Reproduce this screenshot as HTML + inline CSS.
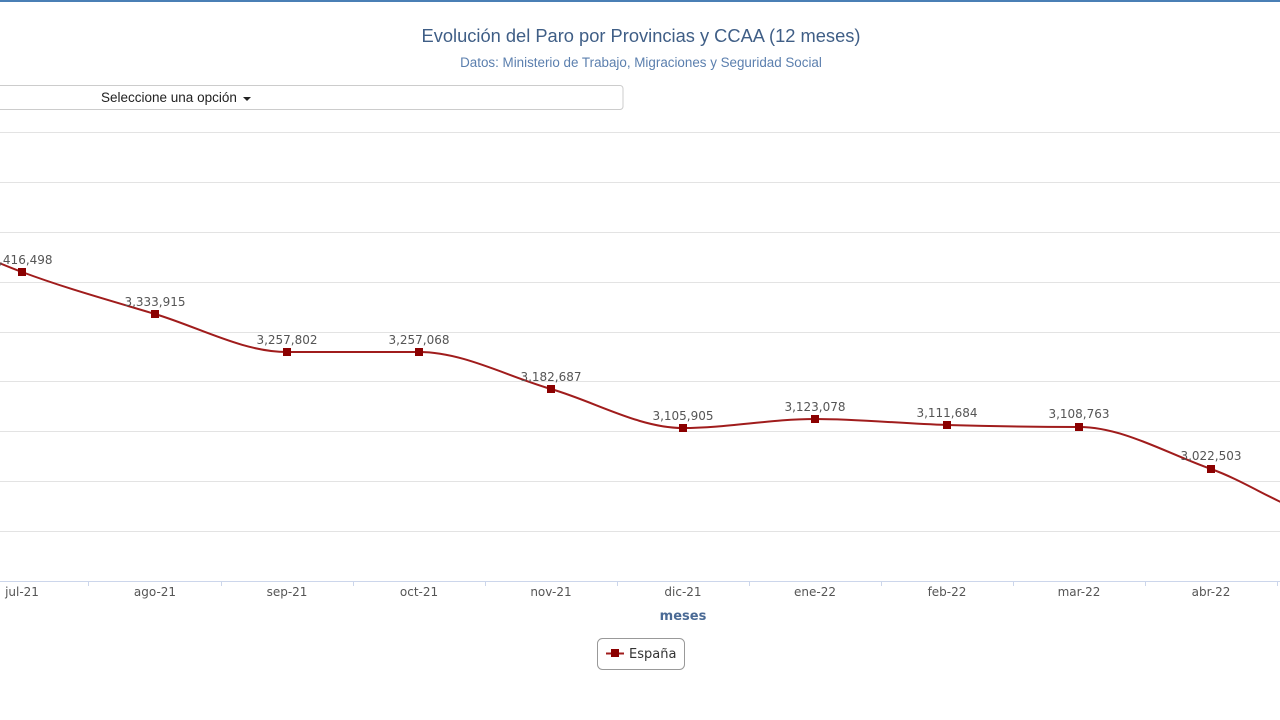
<!DOCTYPE html>
<html><head><meta charset="utf-8"><style>
body{margin:0;width:1280px;height:720px;overflow:hidden;background:#fff;font-family:"DejaVu Sans","Liberation Sans",sans-serif;}
</style></head><body>
<svg width="1280" height="720" xmlns="http://www.w3.org/2000/svg" style="position:absolute;left:0;top:0">
<rect x="0" y="0" width="1280" height="2" fill="#4a7fb5"/>
<text x="641" y="42" text-anchor="middle" font-family="Liberation Sans, sans-serif" font-size="18.3" fill="#3f5e86">Evolución del Paro por Provincias y CCAA (12 meses)</text>
<text x="641" y="67" text-anchor="middle" font-family="Liberation Sans, sans-serif" font-size="13.4" fill="#5b7fae">Datos: Ministerio de Trabajo, Migraciones y Seguridad Social</text>
<rect x="-6" y="85.5" width="629" height="24" rx="3" fill="#fff" stroke="#ccc"/>
<text x="101" y="102" font-family="Liberation Sans, sans-serif" font-size="13.5" fill="#222">Seleccione una opción</text>
<path d="M243 97 L251 97 L247 101 Z" fill="#222"/>
<g stroke="#e3e3e3" stroke-width="1">
<line x1="0" x2="1280" y1="132.5" y2="132.5"/><line x1="0" x2="1280" y1="182.5" y2="182.5"/>
<line x1="0" x2="1280" y1="232.5" y2="232.5"/><line x1="0" x2="1280" y1="282.5" y2="282.5"/>
<line x1="0" x2="1280" y1="332.5" y2="332.5"/><line x1="0" x2="1280" y1="381.5" y2="381.5"/>
<line x1="0" x2="1280" y1="431.5" y2="431.5"/><line x1="0" x2="1280" y1="481.5" y2="481.5"/>
<line x1="0" x2="1280" y1="531.5" y2="531.5"/>
</g>
<line x1="0" x2="1280" y1="581.5" y2="581.5" stroke="#ccd6eb"/>
<g stroke="#ccd6eb">
<line x1="88.5" x2="88.5" y1="581" y2="586"/><line x1="221.5" x2="221.5" y1="581" y2="586"/>
<line x1="353.5" x2="353.5" y1="581" y2="586"/><line x1="485.5" x2="485.5" y1="581" y2="586"/>
<line x1="617.5" x2="617.5" y1="581" y2="586"/><line x1="749.5" x2="749.5" y1="581" y2="586"/>
<line x1="881.5" x2="881.5" y1="581" y2="586"/><line x1="1013.5" x2="1013.5" y1="581" y2="586"/>
<line x1="1145.5" x2="1145.5" y1="581" y2="586"/><line x1="1277.5" x2="1277.5" y1="581" y2="586"/>
</g>
<g font-size="12" fill="#555" text-anchor="middle">
<text x="22" y="596">jul-21</text><text x="155" y="596">ago-21</text><text x="287" y="596">sep-21</text>
<text x="419" y="596">oct-21</text><text x="551" y="596">nov-21</text><text x="683" y="596">dic-21</text>
<text x="815" y="596">ene-22</text><text x="947" y="596">feb-22</text><text x="1079" y="596">mar-22</text>
<text x="1211" y="596">abr-22</text>
</g>
<text x="683" y="620" text-anchor="middle" font-size="13" font-weight="bold" fill="#4a6a95">meses</text>
<path d="M-110,215 C-66,234 -22,255.5 22,272 C66.2,288.5 111,300.7 155,314 C199.2,327.3 243,352 287,352 C331,352 375,352 419,352 C463,352 507,376.3 551,389 C595,401.7 639,428 683,428 C727,428 771,419 815,419 C859,419 903,423.7 947,425 C991,426.3 1035,427 1079,427 C1123,427 1167,453.5 1211,469 C1255,484.5 1299,520 1343,520" fill="none" stroke="#a01c1c" stroke-width="2"/>
<g fill="#8b0000">
<rect x="18" y="268" width="8" height="8"/><rect x="151" y="310" width="8" height="8"/>
<rect x="283" y="348" width="8" height="8"/><rect x="415" y="348" width="8" height="8"/>
<rect x="547" y="385" width="8" height="8"/><rect x="679" y="424" width="8" height="8"/>
<rect x="811" y="415" width="8" height="8"/><rect x="943" y="421" width="8" height="8"/>
<rect x="1075" y="423" width="8" height="8"/><rect x="1207" y="465" width="8" height="8"/>
</g>
<g font-size="12" fill="#555" text-anchor="middle">
<text x="22" y="264">3,416,498</text><text x="155" y="306">3,333,915</text>
<text x="287" y="344">3,257,802</text><text x="419" y="344">3,257,068</text>
<text x="551" y="381">3,182,687</text><text x="683" y="420">3,105,905</text>
<text x="815" y="411">3,123,078</text><text x="947" y="417">3,111,684</text>
<text x="1079" y="418">3,108,763</text><text x="1211" y="460">3,022,503</text>
</g>
<rect x="597.5" y="638.5" width="87" height="31" rx="5" fill="#fff" stroke="#999"/>
<line x1="606" x2="624" y1="653.5" y2="653.5" stroke="#a01c1c" stroke-width="2"/>
<rect x="611" y="649" width="8" height="8" fill="#8b0000"/>
<text x="629" y="658" font-size="13" fill="#333">España</text>
</svg>
</body></html>
